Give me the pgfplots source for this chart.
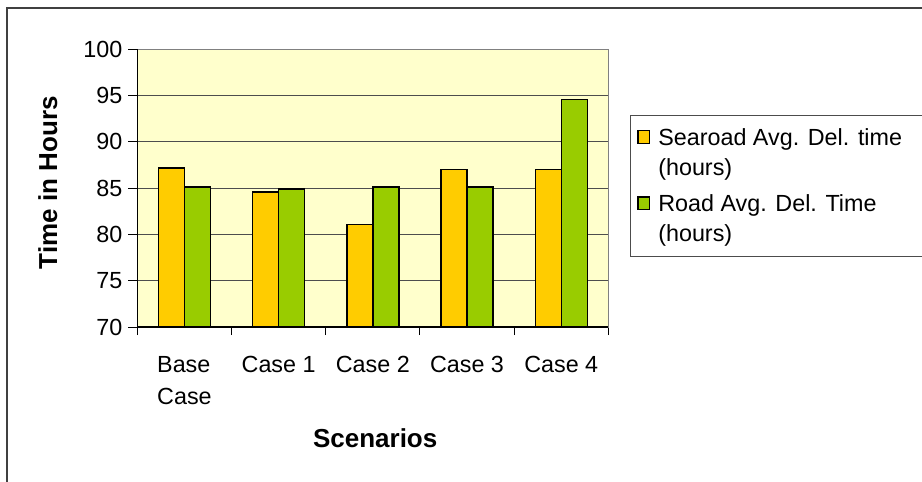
\documentclass[border=0pt]{standalone}
\usepackage{pgfplots}
\pgfplotsset{compat=1.18}
\usepackage{fontspec}
\setmainfont{Liberation Sans}
\definecolor{searoad}{HTML}{FFCC00}
\definecolor{road}{HTML}{99CC00}
\definecolor{plotbg}{HTML}{FFFFCC}
\definecolor{gridc}{HTML}{4D4D4D}
\begin{document}
\begin{tikzpicture}
\begin{axis}[
  at={(103pt,116.25pt)}, anchor=south west,
  scale only axis, width=353.25pt, height=208.3pt,
  ybar=0pt, bar width=19.5pt,
  xmin=-0.5, xmax=4.5, ymin=70, ymax=100,
  ytick={70,75,...,100},
  xtick={0,1,2,3,4},
  xticklabels={{Base\\Case},{Case 1},{Case 2},{Case 3},{Case 4}},
  minor xtick={-0.5,0.5,1.5,2.5,3.5,4.5},
  xtick pos=bottom, ytick pos=left,
  major x tick style={draw=none},
  minor x tick style={black, line width=0.75pt},
  minor tick length=6pt,
  major tick length=6.75pt,
  tick align=outside,
  ytick style={black, line width=0.75pt},
  ymajorgrids, grid style={gridc, line width=0.75pt},
  axis background/.style={fill=plotbg},
  axis line style={draw=gray, line width=1pt},
  /pgf/number format/assume math mode=true,
  ticklabel style={font=\fontsize{17.5}{24}\selectfont},
  xticklabel style={align=left, yshift=-11.5pt},
  yticklabel style={xshift=-1pt},
  xlabel={\bfseries Scenarios},
  ylabel={\bfseries Time in Hours},
  label style={font=\fontsize{19.5}{24}\selectfont},
  xlabel style={at={(axis description cs:0.505,-0.40)}, anchor=center},
  ylabel style={at={(axis description cs:-0.19,0.519)}, anchor=center},
  legend style={at={(1.046,0.763)}, anchor=north west, draw=gray!60!black,
    line width=0.75pt, fill=white, font=\fontsize{17.5}{22.5}\selectfont,
    row sep=9pt, column sep=4pt, inner xsep=5pt, inner ysep=7.5pt},
  legend cell align=left,
  legend image code/.code={\draw[#1,line width=1.1pt] (0pt,7pt) rectangle (8.75pt,16.5pt);},
  clip=false,
]
\addplot[fill=searoad, draw=black, line width=1.1pt] coordinates {(0,87.2) (1,84.6) (2,81.1) (3,87.0) (4,87.0)};
\addlegendentry{\parbox[b]{250pt}{Searoad Avg. Del. time\newline(hours)}}
\addplot[fill=road, draw=black, line width=1.1pt] coordinates {(0,85.1) (1,84.9) (2,85.1) (3,85.1) (4,94.6)};
\addlegendentry{\parbox[b]{250pt}{Road Avg. Del. Time\newline(hours)}}
\draw[black, line width=1pt] (rel axis cs:0,1) -- (rel axis cs:0,0) -- (rel axis cs:1,0);
\end{axis}
\draw[gray!50!black, line width=1.2pt] (5.25pt,-10pt) -- (5.25pt,355.5pt) -- (720pt,355.5pt);
\pgfresetboundingbox
\path[use as bounding box] (0,0) rectangle (691.5pt,361.5pt);
\end{tikzpicture}
\end{document}
